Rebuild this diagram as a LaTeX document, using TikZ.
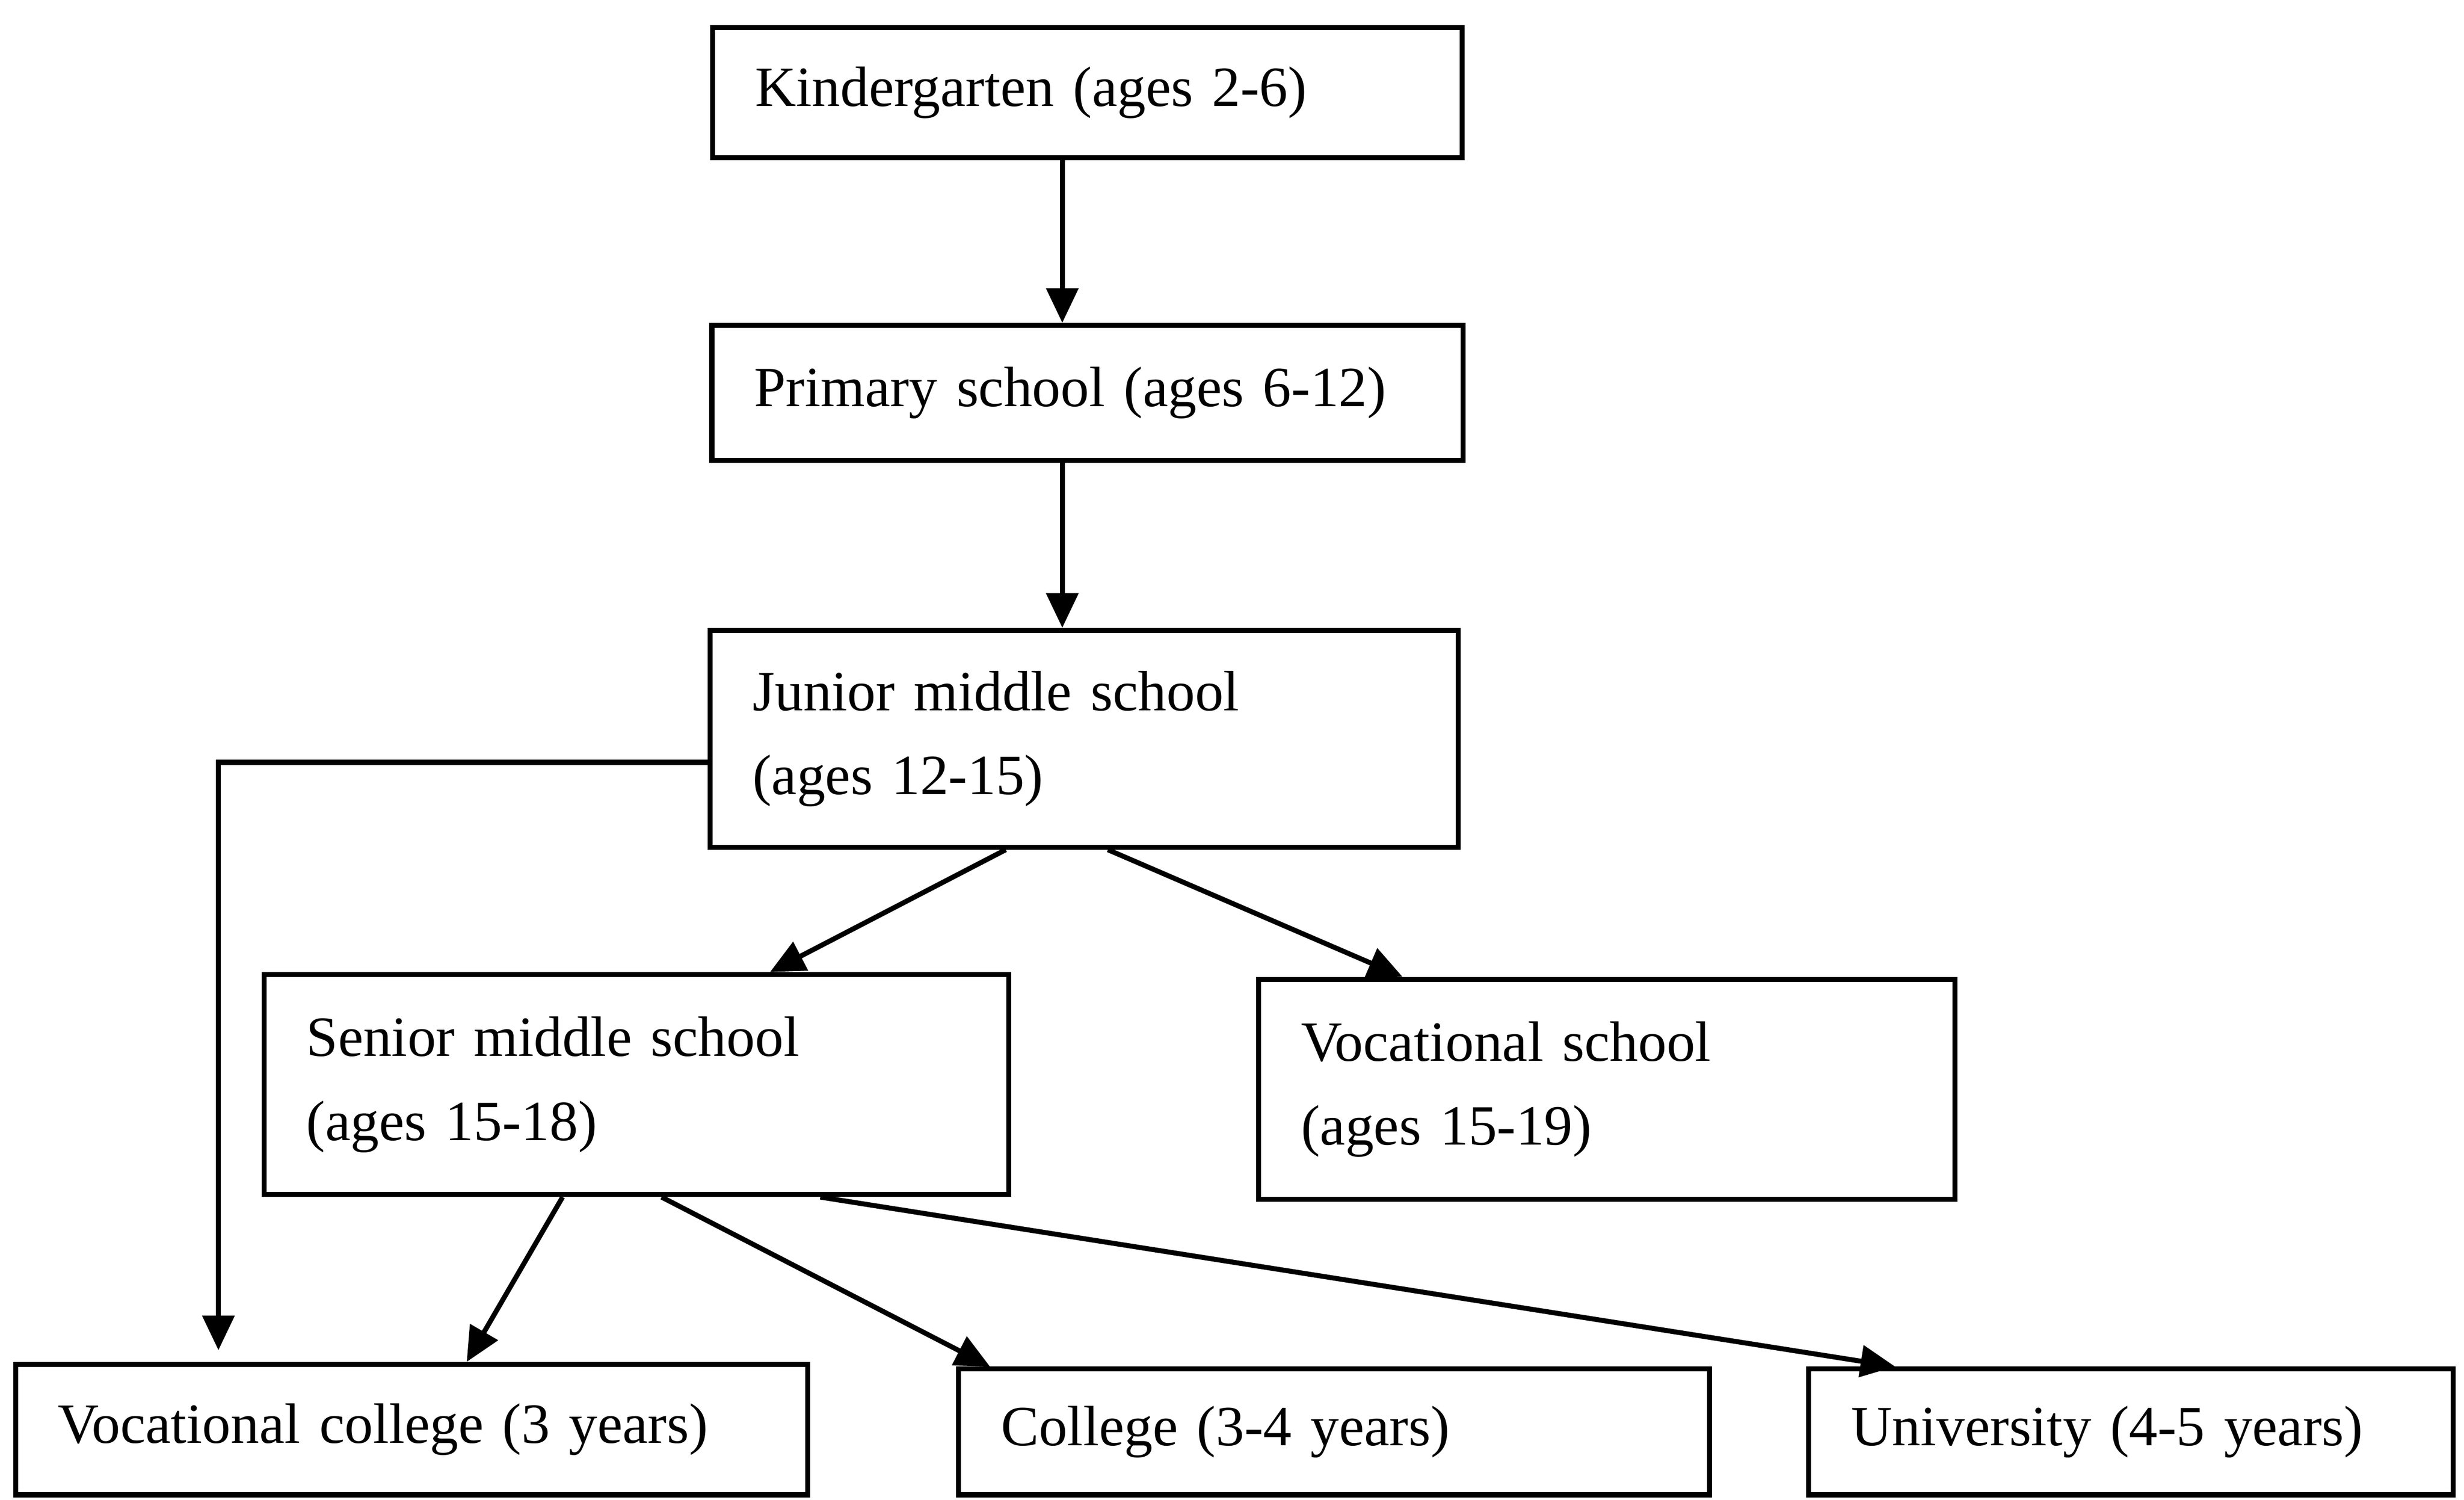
\documentclass[tikz,border=0pt]{standalone}
\usepackage{fontspec}
\setmainfont{Liberation Serif}
\usetikzlibrary{arrows.meta}
\begin{document}
\begin{tikzpicture}[stage/.style={draw,line width=0.9pt,align=left,inner xsep=0.27cm,inner ysep=0pt,font=\fontsize{10.3}{15.2}\selectfont},
arr/.style={line width=0.9pt,-{Triangle[length=2.2mm,width=2mm]}}]
\useasboundingbox (0,0) rectangle (15.68,-9.54);
\node[stage,text width=4.23cm,minimum height=0.83cm](kinder) at (6.92,-0.59) {Kindergarten (ages 2-6)};
\node[stage,text width=4.24cm,minimum height=0.86cm](primary) at (6.92,-2.50) {Primary school (ages 6-12)};
\node[stage,text width=4.22cm,minimum height=1.38cm](junior) at (6.90,-4.70) {Junior middle school\\(ages 12-15)};
\node[stage,text width=4.20cm,minimum height=1.40cm](senior) at (4.05,-6.90) {Senior middle school\\(ages 15-18)};
\node[stage,text width=3.89cm,minimum height=1.40cm](vschool) at (10.225,-6.93) {Vocational school\\(ages 15-19)};
\node[stage,text width=4.50cm,minimum height=0.83cm](vcollege) at (2.62,-9.095) {Vocational college (3 years)};
\node[stage,text width=4.24cm,minimum height=0.80cm](college) at (8.49,-9.11) {College (3-4 years)};
\node[stage,text width=3.56cm,minimum height=0.80cm](univ) at (13.56,-9.11) {University (4-5 years)};
\coordinate (vcin) at (1.39,-8.59);

\draw[arr] ([xshift=-1.6mm]kinder.south) -- ([xshift=-1.6mm]primary.north);
\draw[arr] ([xshift=-1.6mm]primary.south) -- ([xshift=-1.6mm]primary.south |- junior.north);
\draw[arr] ([yshift=-1.5mm]junior.west) -| (vcin);
\draw[arr] ([xshift=-5mm]junior.south) -- ([xshift=8.5mm]senior.north);
\draw[arr] ([xshift=1.5mm]junior.south) -- ([xshift=-13mm]vschool.north);
\draw[arr] ([xshift=-4.7mm]senior.south) -- ([xshift=3.5mm]vcollege.north);
\draw[arr] ([xshift=1.6mm]senior.south) -- ([xshift=-21.9mm]college.north);
\draw[arr] ([xshift=11.7mm]senior.south) -- ([xshift=-15mm]univ.north);
\end{tikzpicture}
\end{document}
